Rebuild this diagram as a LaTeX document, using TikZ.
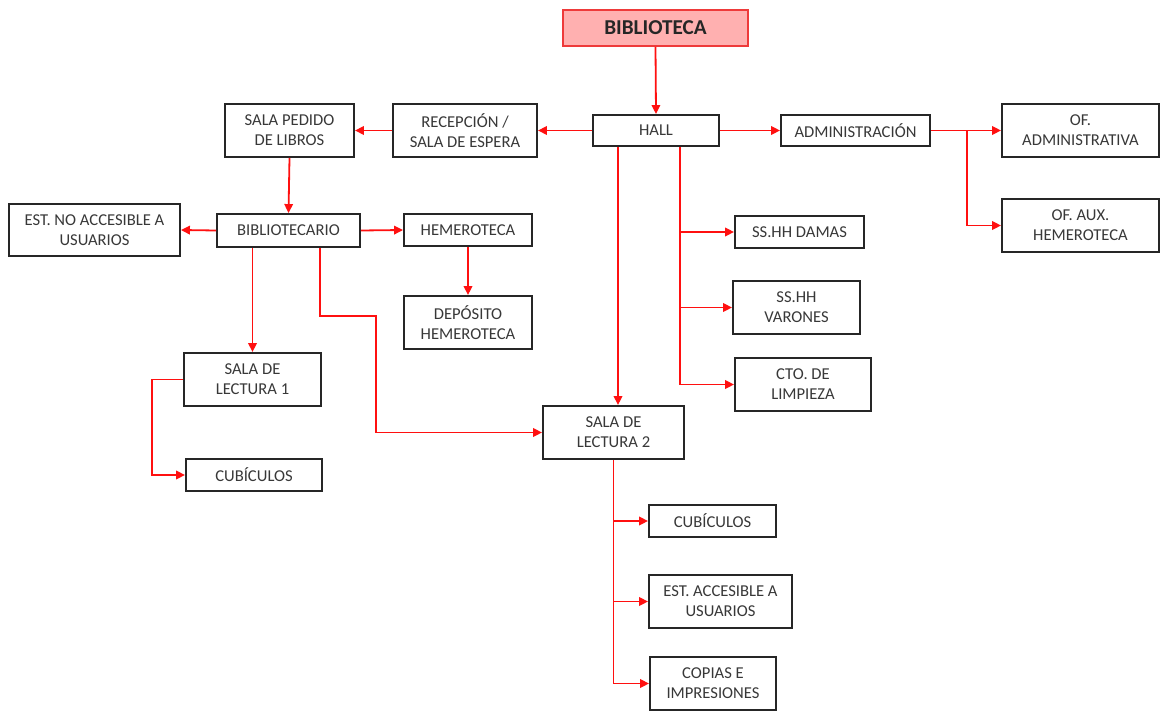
\documentclass[tikz,border=0pt]{standalone}
\usepackage{fontspec}
\setmainfont{Carlito}
\usetikzlibrary{arrows.meta,calc}
\definecolor{txt}{HTML}{383838}
\definecolor{lnk}{HTML}{FF1010}
\definecolor{pinkfill}{HTML}{FFB0B0}
\definecolor{pinkline}{HTML}{EE3A3A}
\tikzset{
  box/.style={draw=black!85,line width=1.9pt,fill=white,text=txt,align=center,
    font=\fontsize{16.6}{20}\selectfont,inner sep=0pt},
  topbox/.style={draw=pinkline,line width=1.7pt,fill=pinkfill,text=black!85,
    font=\bfseries\fontsize{21.2}{25}\selectfont,inner sep=0pt,
    minimum width=185pt,minimum height=36pt},
  link/.style={draw=lnk,line width=1.8pt},
  arr/.style={link,-{Triangle[length=9pt,width=8.5pt]}},
}
\newcommand{\bx}[5]{\node[box,minimum width=#3pt,minimum height=#4pt] (#1) at (#2) {#5};}
\begin{document}
\begin{tikzpicture}[x=1pt,y=-1pt]
\useasboundingbox (0,0) rectangle (1161,711);
\node[topbox] (bib) at (655.5,28) {BIBLIOTECA};
\bx{hall}{656,130.5}{126}{31}{HALL}
\bx{rec}{465,130.5}{144}{53}{RECEPCIÓN /\\SALA DE ESPERA}
\bx{spl}{289.5,130.5}{129}{53}{SALA PEDIDO\\DE LIBROS}
\bx{adm}{855.5,130.5}{149}{31}{ADMINISTRACIÓN}
\bx{ofa}{1080.5,130.5}{157}{53}{OF.\\ADMINISTRATIVA}
\bx{ofx}{1080.5,225.5}{157}{53}{OF. AUX.\\HEMEROTECA}
\bx{est}{94.5,230}{171}{52}{EST. NO ACCESIBLE A\\USUARIOS}
\bx{bibl}{288.5,230.5}{143}{33}{BIBLIOTECARIO}
\bx{hem}{468,230}{128}{32}{HEMEROTECA}
\bx{dep}{468,322.5}{128}{53}{DEPÓSITO\\HEMEROTECA}
\bx{ssd}{799.5,232}{129}{32}{SS.HH DAMAS}
\bx{ssv}{796.5,307.5}{127}{53}{SS.HH\\VARONES}
\bx{cto}{803,384.5}{136}{53}{CTO. DE\\LIMPIEZA}
\bx{sla}{252.5,379.5}{137}{53}{SALA DE\\LECTURA 1}
\bx{cua}{254,475}{136}{32}{CUBÍCULOS}
\bx{slb}{613.5,432.5}{141}{53}{SALA DE\\LECTURA 2}
\bx{cub}{712.5,521}{127}{32}{CUBÍCULOS}
\bx{eac}{720.5,601.5}{143}{53}{EST. ACCESIBLE A\\USUARIOS}
\bx{cop}{713,683.5}{126}{53}{COPIAS E\\IMPRESIONES}
% connectors
\draw[arr] (bib.south) -- (hall.north);
\draw[arr] (hall.west) -- (rec.east);
\draw[arr] (rec.west) -- (spl.east);
\draw[arr] (hall.east) -- (adm.west);
\draw[arr] (adm.east) -- (ofa.west);
\coordinate (a1) at ([xshift=36pt]adm.east);
\draw[arr] (a1) |- (ofx.west);
\draw[arr] (spl.south) -- (bibl.north);
\draw[arr] (bibl.west) -- (est.east);
\draw[arr] (bibl.east) -- (hem.west);
\draw[arr] (hem.south) -- (dep.north);
\draw[arr] (bibl.south -| sla.north) -- (sla.north);
\coordinate (k1) at (376,316);
\draw[arr] ([xshift=31.5pt]bibl.south) |- (k1) |- (slb.west);
\draw[arr] (sla.west) -- ++(-31,0) |- (cua.west);
\coordinate (h1) at ([xshift=-38pt]hall.south);
\draw[arr] (h1) -- (h1 |- slb.north);
\coordinate (h2) at ([xshift=24pt]hall.south);
\draw[arr] (h2) |- (cto.west);
\draw[arr] (h2 |- ssd.west) -- (ssd.west);
\draw[arr] (h2 |- ssv.west) -- (ssv.west);
\draw[arr] (slb.south) |- (cop.west);
\draw[arr] (slb.south |- cub.west) -- (cub.west);
\draw[arr] (slb.south |- eac.west) -- (eac.west);
\end{tikzpicture}
\end{document}
